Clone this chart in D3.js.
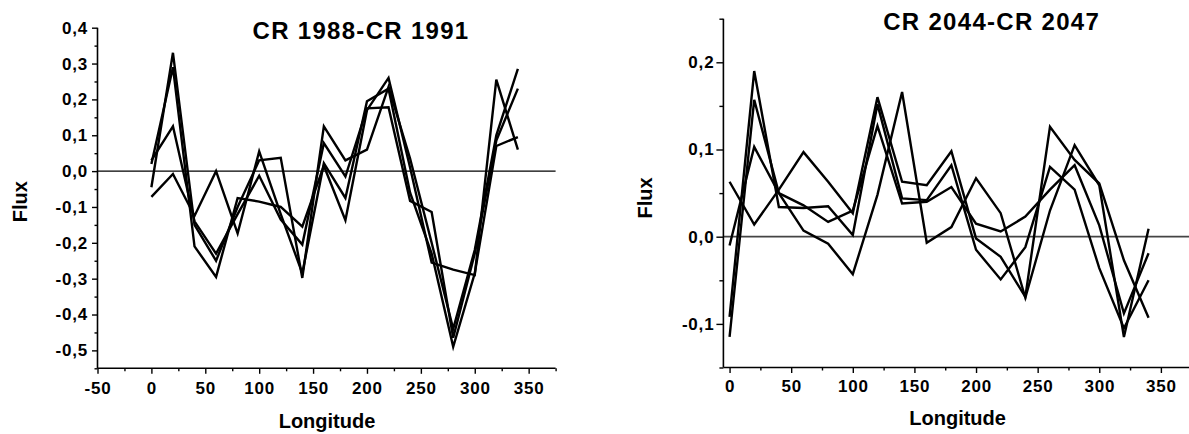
<!DOCTYPE html>
<html>
<head>
<meta charset="utf-8">
<script src="https://cdn.jsdelivr.net/npm/d3@7"></script>
<style>
  html, body { margin: 0; padding: 0; background: #fff; }
  svg { display: block; }
  text { font-family: "Liberation Sans", Arial, sans-serif; font-weight: bold; fill: #000; }
</style>
</head>
<body>
<svg id="chart" width="1189" height="434"></svg>
<script>
// longitudes shared by every series
var longitudes = [0, 20, 40, 60, 80, 100, 120, 140, 160, 180, 200, 220, 240, 260, 280, 300, 320, 340];

// CR 1988 - CR 1991
var fluxA1 = [-0.045, 0.33, -0.15, -0.25, -0.10, 0.03, 0.037, -0.298, 0.125, 0.03, 0.06, 0.235, 0.035, -0.20, -0.44, -0.22, 0.10, 0.285];
var fluxA2 = [0.02, 0.29, -0.21, -0.295, -0.075, -0.085, -0.10, -0.155, 0.015, -0.137, 0.17, 0.26, 0.01, -0.255, -0.275, -0.29, 0.255, 0.06];
var fluxA3 = [0.03, 0.125, -0.14, -0.23, -0.12, -0.013, -0.135, -0.205, 0.078, -0.015, 0.175, 0.178, -0.083, -0.114, -0.465, -0.23, 0.085, 0.23];
var fluxA4 = [-0.072, -0.008, -0.125, 0.0, -0.174, 0.055, -0.12, -0.285, 0.022, -0.075, 0.195, 0.23, -0.06, -0.23, -0.49, -0.285, 0.07, 0.095];

// CR 2044 - CR 2047
var fluxB1 = [-0.01, 0.103, 0.05, 0.007, -0.008, -0.043, 0.048, 0.166, -0.007, 0.011, 0.067, 0.027, -0.07, 0.03, 0.105, 0.059, -0.115, 0.009];
var fluxB2 = [0.063, 0.014, 0.054, 0.097, 0.063, 0.027, 0.16, 0.063, 0.059, 0.098, -0.002, -0.023, -0.069, 0.126, 0.088, 0.061, -0.027, -0.093];
var fluxB3 = [-0.092, 0.19, 0.034, 0.033, 0.035, 0.002, 0.152, 0.044, 0.042, 0.082, -0.015, -0.049, -0.012, 0.08, 0.054, -0.036, -0.105, -0.05];
var fluxB4 = [-0.115, 0.157, 0.05, 0.036, 0.017, 0.03, 0.127, 0.038, 0.04, 0.057, 0.015, 0.006, 0.023, 0.054, 0.082, 0.013, -0.088, -0.019];

// tick values
var xTicksA = [-50, 0, 50, 100, 150, 200, 250, 300, 350];
var xMinorA = [-25, 25, 75, 125, 175, 225, 275, 325, 375];
var yTicksA = [-0.5, -0.4, -0.3, -0.2, -0.1, 0.0, 0.1, 0.2, 0.3, 0.4];
var yMinorA = [-0.55, -0.45, -0.35, -0.25, -0.15, -0.05, 0.05, 0.15, 0.25, 0.35];

var xTicksB = [0, 50, 100, 150, 200, 250, 300, 350];
var xMinorB = [25, 75, 125, 175, 225, 275, 325, 375];
var yTicksB = [-0.1, 0.0, 0.1, 0.2];
var yMinorB = [-0.15, -0.05, 0.05, 0.15, 0.25];

var titleA = "CR 1988-CR 1991";
var titleB = "CR 2044-CR 2047";

var svg = d3.select('#chart');
var locale = d3.formatLocale({decimal: ",", thousands: ".", grouping: [3], currency: ["", ""], minus: "-"});
var fmtY = locale.format(".1f");
var fmtX = locale.format("d");

function drawPanel(p) {
  var x = d3.scaleLinear().domain(p.xDomain).range(p.xRange);
  var y = d3.scaleLinear().domain(p.yDomain).range(p.yRange);
  var g = svg.append('g');

  // zero line
  g.append('line')
    .attr('x1', x(p.xDomain[0])).attr('x2', x(p.xDomain[1]))
    .attr('y1', y(0)).attr('y2', y(0))
    .attr('stroke', p.zeroColor).attr('stroke-width', p.zeroWidth);

  // series
  var line = d3.line().x(function(d) { return x(d[0]); }).y(function(d) { return y(d[1]); });
  p.series.forEach(function(s) {
    g.append('path')
      .datum(longitudes.map(function(l, i) { return [l, s[i]]; }))
      .attr('d', line)
      .attr('fill', 'none')
      .attr('stroke', '#000')
      .attr('stroke-width', 2.4)
      .attr('stroke-linejoin', 'miter');
  });

  // axes
  var yMinor = g.append('g').attr('transform', 'translate(' + x(p.xDomain[0]) + ',0)')
    .call(d3.axisLeft(y).tickValues(p.yMinor).tickSize(p.yMinorLen).tickFormat(''));
  var yAxis = g.append('g').attr('transform', 'translate(' + x(p.xDomain[0]) + ',0)')
    .call(d3.axisLeft(y).tickValues(p.yTicks).tickSize(p.yTickLen).tickPadding(p.yPad).tickFormat(fmtY));
  var xMinor = g.append('g').attr('transform', 'translate(0,' + y(p.yDomain[0]) + ')')
    .call(d3.axisBottom(x).tickValues(p.xMinor).tickSize(3).tickFormat(''));
  var xAxis = g.append('g').attr('transform', 'translate(0,' + y(p.yDomain[0]) + ')')
    .call(d3.axisBottom(x).tickValues(p.xTicks).tickSize(5.5).tickPadding(p.xPad).tickFormat(fmtX));

  [yMinor, yAxis, xMinor, xAxis].forEach(function(a) {
    a.selectAll('.domain').attr('stroke', '#000').attr('stroke-width', 1.6);
    a.selectAll('.tick line').attr('stroke', '#000').attr('stroke-width', 1.4);
    a.selectAll('.tick text')
      .attr('font-family', '"Liberation Sans", Arial, sans-serif')
      .attr('font-weight', 'bold')
      .attr('font-size', 17)
      .style('letter-spacing', '0.8px')
      .attr('fill', '#000');
  });
  xAxis.selectAll('.domain').attr('d', 'M' + x(p.xDomain[0]) + ',0H' + x(p.xDomain[1]));
  xMinor.selectAll('.domain').remove();
  yMinor.selectAll('.domain').remove();
  yAxis.selectAll('.domain').attr('d', 'M0,' + y(p.yDomain[0]) + 'V' + y(p.yDomain[1]));

  // titles
  g.append('text').attr('x', p.titlePos[0]).attr('y', p.titlePos[1])
    .attr('text-anchor', 'middle').attr('font-size', 24)
    .style('letter-spacing', '1.3px').text(p.title);
  g.append('text').attr('x', p.xLabelPos[0]).attr('y', p.xLabelPos[1])
    .attr('text-anchor', 'middle').attr('font-size', 20).text('Longitude');
  g.append('text')
    .attr('transform', 'translate(' + p.yLabelPos[0] + ',' + p.yLabelPos[1] + ') rotate(-90)')
    .attr('text-anchor', 'middle').attr('dy', '0.36em').attr('font-size', 20).text('Flux');
}

drawPanel({
  series: [fluxA1, fluxA2, fluxA3, fluxA4],
  xDomain: [-50, 375], xRange: [97.5, 555.6],
  yDomain: [-0.55, 0.4], yRange: [368.3, 27.7],
  xTicks: xTicksA, xMinor: xMinorA, yTicks: yTicksA, yMinor: yMinorA,
  yTickLen: 5.5, yMinorLen: 3, yPad: 4, xPad: 8,
  zeroColor: '#000', zeroWidth: 1.3,
  title: titleA, titlePos: [361, 38.5],
  xLabelPos: [327, 427.5], yLabelPos: [20, 201.7]
});

drawPanel({
  series: [fluxB1, fluxB2, fluxB3, fluxB4],
  xDomain: [-5, 375], xRange: [723.4, 1191.7],
  yDomain: [-0.15, 0.25], yRange: [367.5, 18.7],
  xTicks: xTicksB, xMinor: xMinorB, yTicks: yTicksB, yMinor: yMinorB,
  yTickLen: 7, yMinorLen: 4, yPad: 2, xPad: 7,
  zeroColor: '#444', zeroWidth: 1.8,
  title: titleB, titlePos: [991.7, 30],
  xLabelPos: [957.6, 425], yLabelPos: [644.5, 198]
});
</script>
</body>
</html>
